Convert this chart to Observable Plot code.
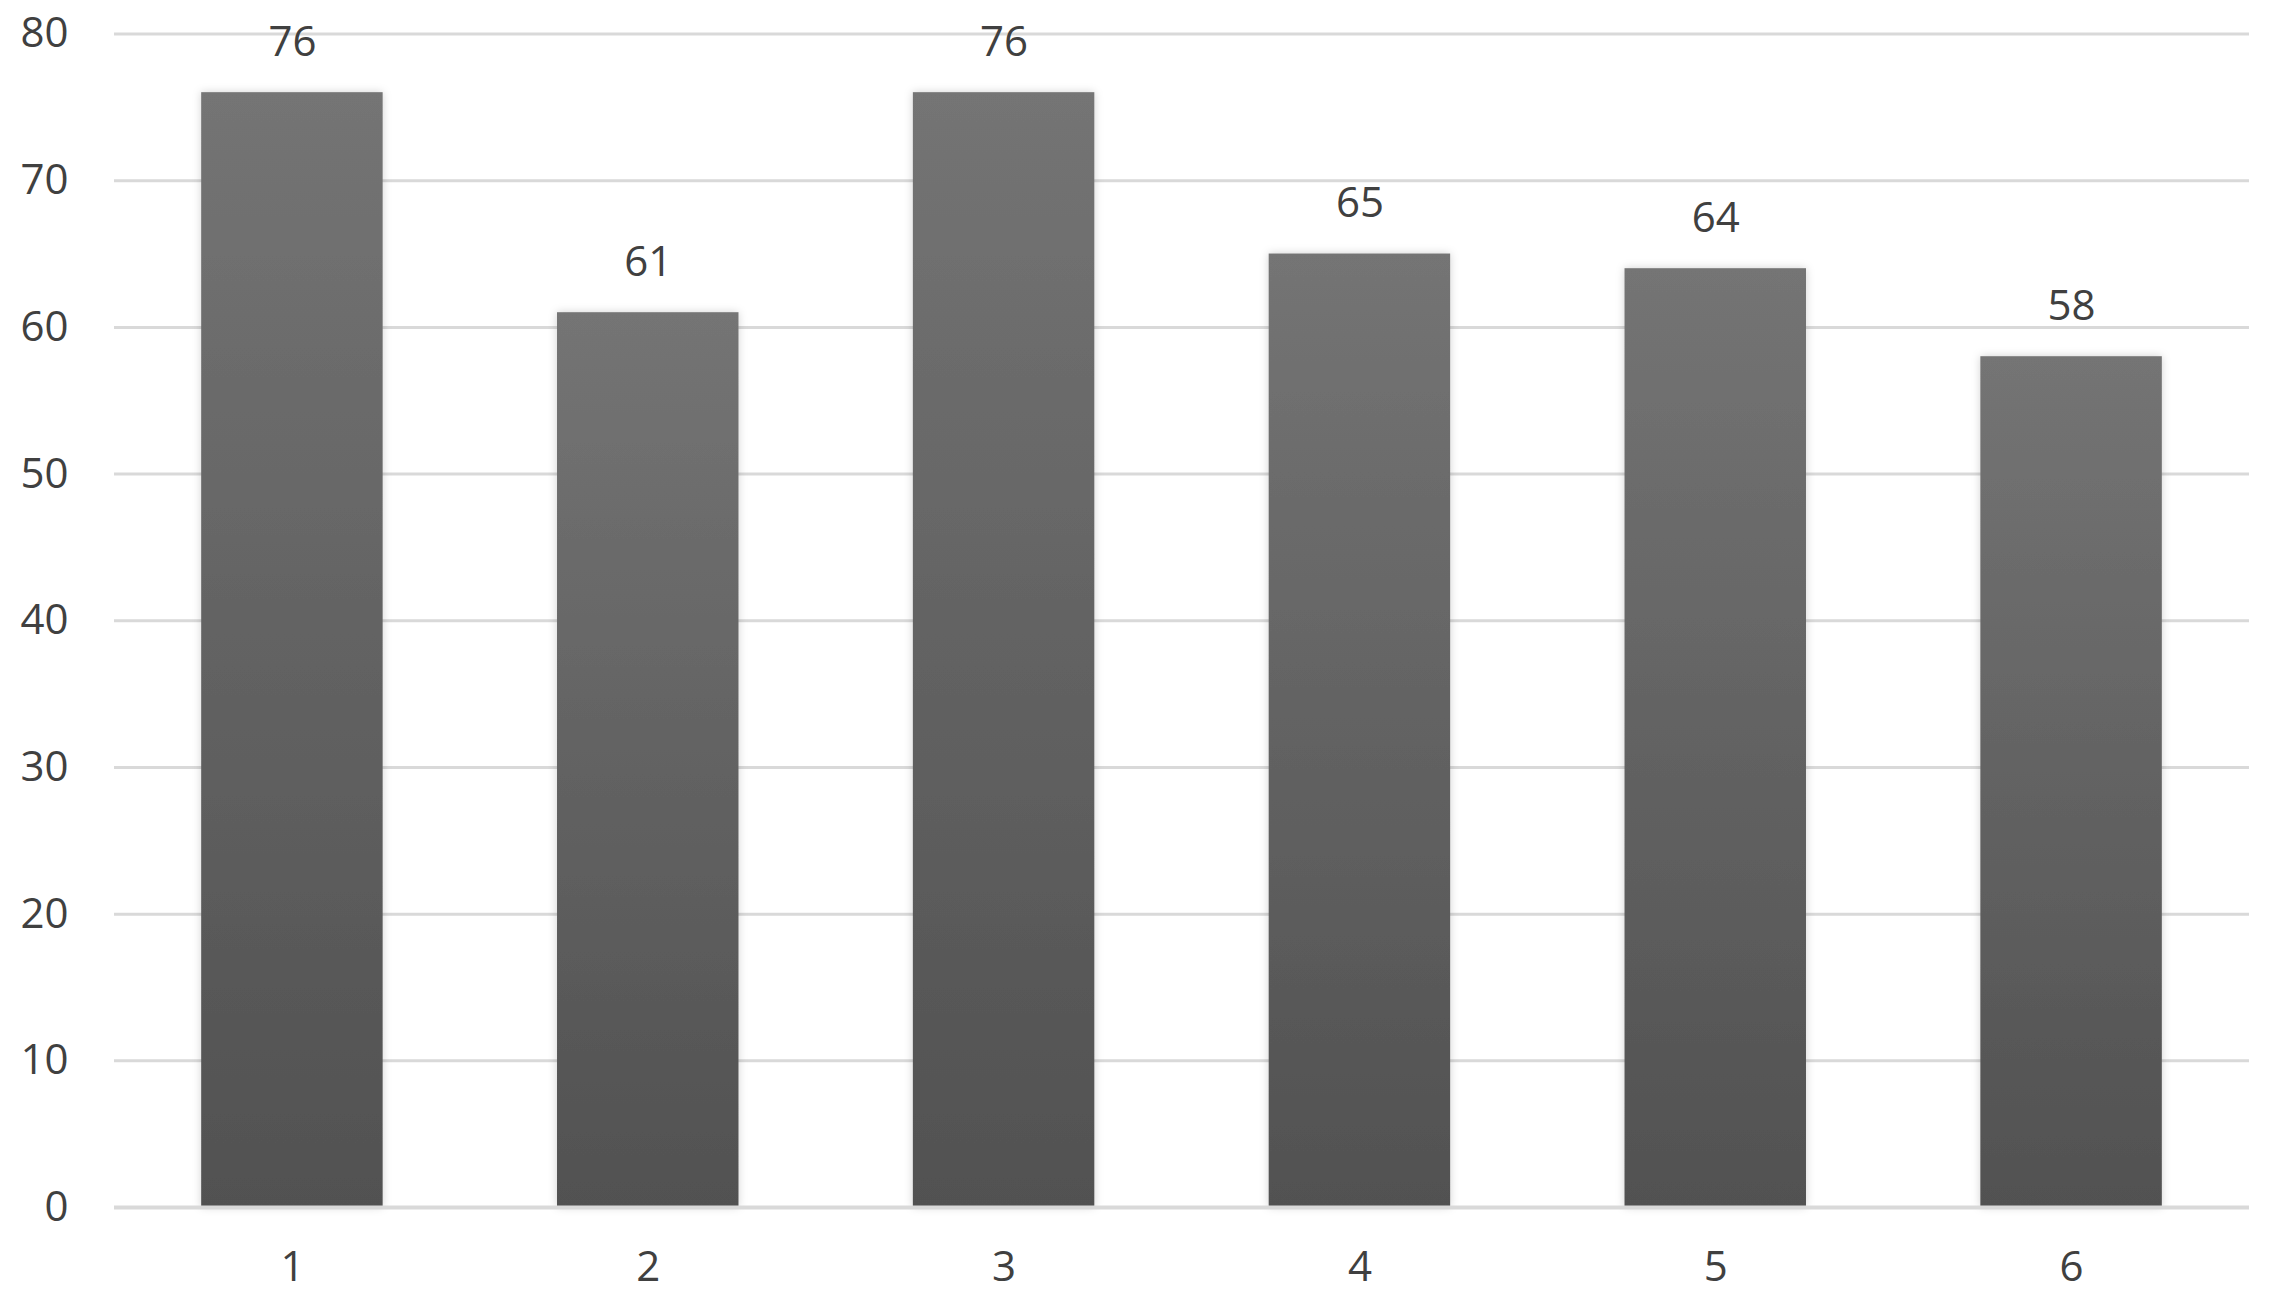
<!DOCTYPE html>
<html>
<head>
<meta charset="utf-8">
<script src="https://cdn.jsdelivr.net/npm/d3@7"></script>
<script src="https://cdn.jsdelivr.net/npm/@observablehq/plot@0.6"></script>
<style>
  html, body { margin: 0; padding: 0; background: #ffffff; }
  #chart { width: 2277px; height: 1313px; overflow: hidden; }
</style>
</head>
<body>
<div id="chart"></div>
<script>
// Data
const categories = ["1", "2", "3", "4", "5", "6"];
const values = [76, 61, 76, 65, 64, 58];
const yTicks = [0, 10, 20, 30, 40, 50, 60, 70, 80];

const data = categories.map((c, i) => ({cat: c, value: values[i]}));

const fontFamily = "'Segoe UI', 'Open Sans', 'Noto Sans', sans-serif";

const chart = Plot.plot({
  width: 2277,
  height: 1313,
  marginLeft: 114,
  marginRight: 28,
  marginTop: 33.5,
  marginBottom: 106,
  style: {
    fontFamily,
    fontSize: "42px",
    color: "#404040",
    background: "#ffffff",
    overflow: "visible"
  },
  x: {
    domain: categories,
    paddingInner: 0.49,
    paddingOuter: 0.245,
    round: false,
    tickSize: 0,
    tickPadding: 44,
    label: null
  },
  y: {
    domain: [0, 80],
    ticks: yTicks,
    tickSize: 0,
    tickPadding: 46,
    label: null
  },
  marks: [
    Plot.ruleY(yTicks.filter(d => d !== 0), {stroke: "#d9d9d9", strokeWidth: 3}),
    Plot.barY(data, {x: "cat", y: "value", fill: "url(#barGrad)"}),
    Plot.ruleY([0], {stroke: "#d9d9d9", strokeWidth: 4}),
    Plot.text(data, {
      x: "cat",
      y: "value",
      text: d => String(d.value),
      dy: -37,
      lineAnchor: "bottom",
      fill: "#404040",
      fontSize: 42
    })
  ]
});

// Gradient + soft shadow for the bars
const ns = "http://www.w3.org/2000/svg";
const defs = document.createElementNS(ns, "defs");
defs.innerHTML = `
  <linearGradient id="barGrad" x1="0" y1="0" x2="0" y2="1">
    <stop offset="0" stop-color="#747474"/>
    <stop offset="1" stop-color="#515151"/>
  </linearGradient>
  <filter id="barShadow" x="-10%" y="-5%" width="120%" height="110%">
    <feDropShadow dx="0" dy="0" stdDeviation="4" flood-color="#000" flood-opacity="0.18"/>
  </filter>`;
chart.insertBefore(defs, chart.firstChild);
chart.querySelectorAll("rect").forEach(r => {
  if (r.getAttribute("fill") === "url(#barGrad)" || (r.parentNode && r.parentNode.getAttribute("fill") === "url(#barGrad)")) {
    r.setAttribute("filter", "url(#barShadow)");
  }
});
document.getElementById("chart").appendChild(chart);
</script>
</body>
</html>
